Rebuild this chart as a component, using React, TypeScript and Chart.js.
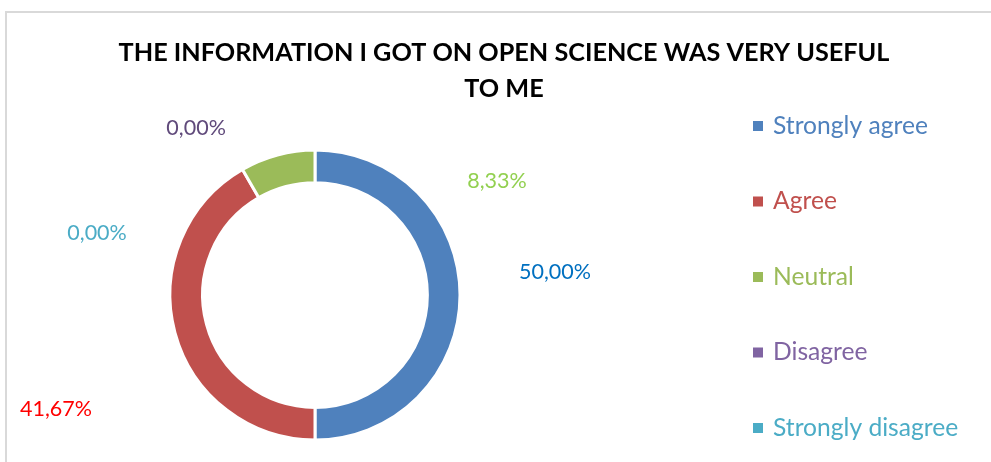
import React, { useEffect, useRef } from "react";
import { Chart, registerables } from "chart.js";

Chart.register(...registerables);

const titleLines = ["THE INFORMATION I GOT ON OPEN SCIENCE WAS VERY USEFUL", "TO ME"];
const categories = ["Strongly agree", "Agree", "Neutral", "Disagree", "Strongly disagree"];
const values = [50, 41.67, 8.33, 0, 0];
const sliceColors = ["#4F81BD", "#C0504D", "#9BBB59", "#8064A2", "#4BACC6"];
const labelColors = ["#0070C0", "#FF0000", "#92D050", "#604A7B", "#4BACC6"];
// label centers relative to donut center, in units of the outer radius
const labelOffsets = [
  [1.655, -0.159],
  [-1.786, 0.786],
  [1.255, -0.786],
  [-0.82, -1.15],
  [-1.503, -0.428],
];

const FAMILY = "Lato, 'Open Sans', sans-serif";

function fitSize(ctx: CanvasRenderingContext2D, text: string, weight: string, target: number) {
  ctx.font = `${weight} 100px ${FAMILY}`;
  const w = ctx.measureText(text).width;
  return (100 * target) / w;
}

const fmt = (v: number) => v.toFixed(2).replace(".", ",") + "%";

const overlay = {
  id: "overlay",
  afterDraw(chart: any) {
    const ctx: CanvasRenderingContext2D = chart.ctx;
    const meta = chart.getDatasetMeta(0);
    const a0 = meta.data[0] as any;
    const cx = a0.x;
    const cy = a0.y;
    const R = 145;
    ctx.save();
    ctx.textBaseline = "middle";

    // title
    const tSize = fitSize(ctx, titleLines[0], "bold", 771);
    ctx.font = `bold ${tSize}px ${FAMILY}`;
    ctx.fillStyle = "#000000";
    ctx.textAlign = "center";
    ctx.fillText(titleLines[0], 504, 53);
    ctx.fillText(titleLines[1], 504, 89);

    // data labels
    const lSize = fitSize(ctx, "41,67%", "normal", 72);
    ctx.font = `normal ${lSize}px ${FAMILY}`;
    values.forEach((v, i) => {
      const [dx, dy] = labelOffsets[i];
      ctx.fillStyle = labelColors[i];
      ctx.fillText(fmt(v), cx + dx * R, cy + dy * R);
    });

    // legend
    const gSize = fitSize(ctx, "Strongly agree", "normal", 155);
    ctx.font = `normal ${gSize}px ${FAMILY}`;
    ctx.textAlign = "left";
    categories.forEach((c, i) => {
      const y = 126 + i * 75.5;
      ctx.fillStyle = sliceColors[i];
      ctx.fillRect(753, y - 5, 10, 10);
      ctx.fillText(c, 773, y);
    });
    ctx.restore();
  },
};

export default function App() {
  const ref = useRef<HTMLCanvasElement>(null);
  useEffect(() => {
    if (!ref.current) return;
    const chart = new Chart(ref.current, {
      type: "doughnut",
      data: {
        labels: categories,
        datasets: [
          {
            data: values,
            backgroundColor: sliceColors,
            borderColor: "#ffffff",
            borderWidth: values.map((v) => (v > 0 ? 3 : 0)),
          },
        ],
      },
      options: {
        responsive: false,
        animation: false,
        cutout: "77.5%",
        layout: { padding: { left: 168.5, right: 529.5, top: 148.5, bottom: 20.5 } },
        plugins: {
          legend: { display: false },
          title: { display: false },
          tooltip: { enabled: false },
        },
      },
      plugins: [overlay],
    });
    return () => chart.destroy();
  }, []);
  return (
    <div style={{ position: "fixed", left: 0, top: 0, width: 991, height: 462, background: "#fff", overflow: "hidden" }}>
      <div
        style={{
          position: "absolute",
          left: 5,
          top: 11,
          width: 1100,
          height: 600,
          borderTop: "2px solid #d9d9d9",
          borderLeft: "2px solid #d9d9d9",
        }}
      />
      <canvas ref={ref} width={991} height={462} style={{ position: "absolute", left: 0, top: 0, width: 991, height: 462 }} />
    </div>
  );
}
